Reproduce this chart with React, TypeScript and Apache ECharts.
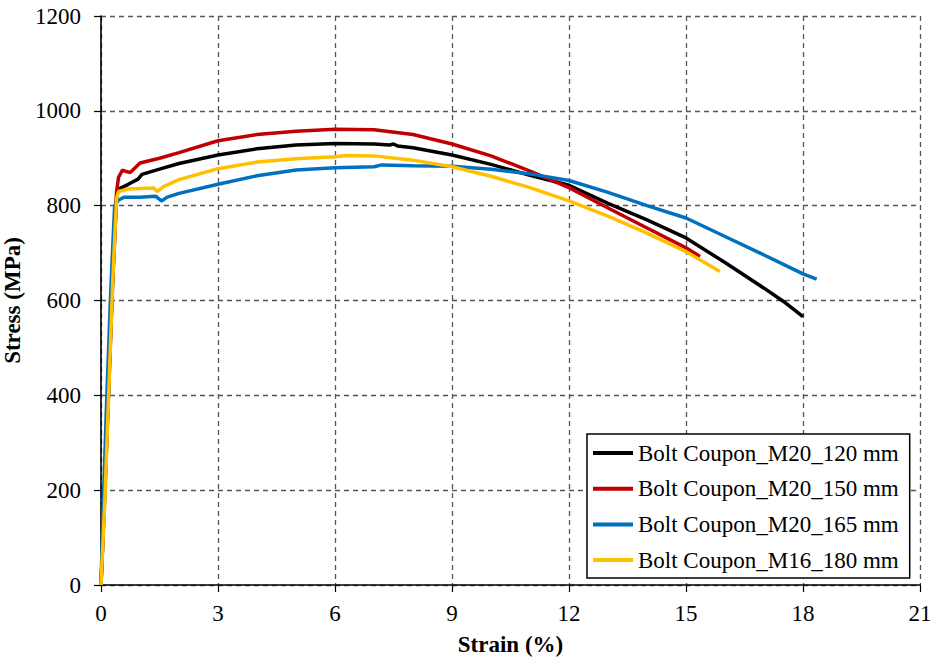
import React, { useEffect, useRef } from "react";
import * as echarts from "echarts";

const seriesNames = [
  "Bolt Coupon_M20_120 mm",
  "Bolt Coupon_M20_150 mm",
  "Bolt Coupon_M20_165 mm",
  "Bolt Coupon_M16_180 mm",
];
const seriesColors = ["#000000", "#C00000", "#0070C0", "#FFC000"];

const xTicks = [0, 3, 6, 9, 12, 15, 18, 21];
const yTicks = [0, 200, 400, 600, 800, 1000, 1200];

const m20_120: number[][] = [
  [0, 0], [0.1, 200], [0.2, 420], [0.3, 640], [0.4, 820], [0.45, 835], [0.7, 845],
  [0.95, 856], [1.05, 866], [1.5, 877], [2, 889], [3, 907], [4, 920], [5, 928],
  [6, 931], [7, 930], [7.4, 928], [7.5, 930], [7.6, 926], [8, 922], [9, 907],
  [10, 887], [11, 864], [12, 843], [13, 805], [14, 770], [15, 732], [16, 680],
  [17, 626], [17.5, 598], [18, 566],
];
const m20_150: number[][] = [
  [0, 0], [0.1, 200], [0.2, 430], [0.3, 650], [0.4, 830], [0.45, 860], [0.55, 875],
  [0.65, 872], [0.75, 870], [0.85, 878], [1.0, 890], [1.5, 900], [2, 912], [3, 937],
  [4, 950], [5, 957], [6, 961], [7, 960], [8, 950], [9, 930], [10, 905], [11, 873],
  [12, 838], [13, 795], [14, 753], [15, 711], [15.36, 693],
];
const m20_165: number[][] = [
  [0, 0], [0.05, 150], [0.15, 400], [0.25, 620], [0.35, 800], [0.45, 812], [0.6, 818],
  [1.0, 818], [1.4, 820], [1.55, 810], [1.7, 818], [2, 826], [3, 845], [4, 863],
  [5, 875], [6, 880], [7, 882], [7.2, 886], [8, 884], [9, 883], [10, 877], [11, 867],
  [12, 853], [13, 828], [14, 800], [15, 774], [16, 735], [17, 696], [18, 656],
  [18.35, 645],
];
const m16_180: number[][] = [
  [0, 0], [0.1, 180], [0.2, 410], [0.3, 640], [0.4, 815], [0.45, 830], [0.7, 835],
  [1.0, 836], [1.35, 837], [1.45, 830], [1.6, 840], [2, 855], [3, 878], [4, 892],
  [5, 899], [6, 903], [6.3, 906], [7, 905], [8, 896], [9, 882], [10, 862], [11, 838],
  [12, 810], [13, 778], [14, 742], [15, 703], [15.87, 661],
];

const allData = [m20_120, m20_150, m20_165, m16_180];

const FONT = "'Liberation Serif', 'Times New Roman', serif";

export default function App() {
  const ref = useRef<HTMLDivElement>(null);
  useEffect(() => {
    if (!ref.current) return;
    const chart = echarts.init(ref.current, undefined, { renderer: "svg" });
    const axisCommon = {
      type: "value" as const,
      nameLocation: "middle" as const,
      nameTextStyle: { fontFamily: FONT, fontSize: 23, fontWeight: "bold", color: "#000" },
      axisLine: { show: true, lineStyle: { color: "#000", width: 1.6 } },
      axisTick: { show: true, length: 7, lineStyle: { color: "#000", width: 1.2 } },
      splitLine: { show: true, lineStyle: { color: "#555", width: 1.3, type: [5, 4] } },
      axisLabel: {
        fontFamily: FONT,
        fontSize: 23,
        color: "#000",
        formatter: (v: number) => String(v),
      },
    };
    chart.setOption({
      animation: false,
      backgroundColor: "#fff",
      grid: {
        left: 101,
        right: 12,
        top: 16,
        bottom: 79,
        containLabel: false,
        outerBoundsMode: "none",
      },
      xAxis: {
        ...axisCommon,
        name: "Strain (%)",
        nameGap: 48,
        min: xTicks[0],
        max: xTicks[xTicks.length - 1],
        interval: 3,
        axisLabel: { ...axisCommon.axisLabel, margin: 17 },
      },
      yAxis: {
        ...axisCommon,
        name: "Stress (MPa)",
        nameGap: 63,
        min: yTicks[0],
        max: yTicks[yTicks.length - 1],
        interval: 200,
        axisLabel: { ...axisCommon.axisLabel, margin: 20 },
      },
      legend: {
        show: true,
        orient: "vertical",
        left: 587,
        top: 434,
        padding: [6, 11, 5, 6],
        itemGap: 9.7,
        itemWidth: 40,
        itemHeight: 4,
        itemTextGap: 4,
        icon: "rect",
        borderColor: "#000",
        borderWidth: 1.5,
        backgroundColor: "#fff",
        textStyle: { fontFamily: FONT, fontSize: 23, color: "#000", lineHeight: 26 },
        data: seriesNames,
      },
      series: allData.map((d, i) => ({
        name: seriesNames[i],
        type: "line",
        data: d,
        showSymbol: false,
        smooth: false,
        lineStyle: { color: seriesColors[i], width: 3.5 },
        itemStyle: { color: seriesColors[i] },
      })),
    });
    return () => chart.dispose();
  }, []);
  return (
    <div
      ref={ref}
      style={{ position: "fixed", left: 0, top: 0, width: 932, height: 664, background: "#fff" }}
    />
  );
}
